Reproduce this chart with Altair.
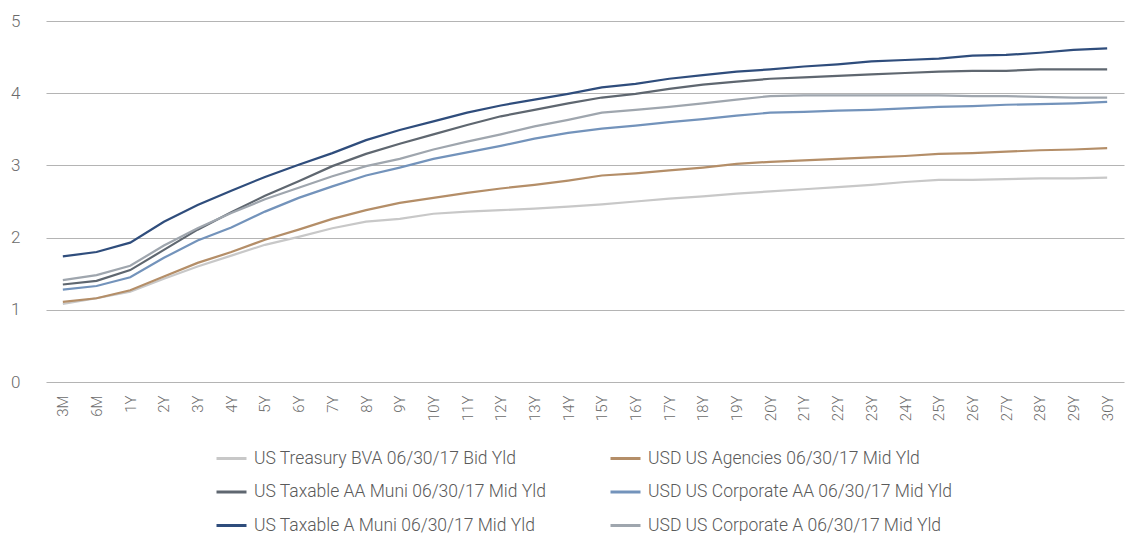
import altair as alt
import pandas as pd

tenors = ["3M", "6M", "1Y", "2Y", "3Y", "4Y", "5Y", "6Y", "7Y", "8Y", "9Y", "10Y",
          "11Y", "12Y", "13Y", "14Y", "15Y", "16Y", "17Y", "18Y", "19Y", "20Y",
          "21Y", "22Y", "23Y", "24Y", "25Y", "26Y", "27Y", "28Y", "29Y", "30Y"]

treasury = [1.08, 1.16, 1.25, 1.43, 1.60, 1.75, 1.90, 2.01, 2.13, 2.22, 2.26, 2.33,
            2.36, 2.38, 2.40, 2.43, 2.46, 2.50, 2.54, 2.57, 2.61, 2.64,
            2.67, 2.70, 2.73, 2.77, 2.80, 2.80, 2.81, 2.82, 2.82, 2.83]
agencies = [1.11, 1.16, 1.27, 1.46, 1.65, 1.80, 1.97, 2.11, 2.26, 2.38, 2.48, 2.55,
            2.62, 2.68, 2.73, 2.79, 2.86, 2.89, 2.93, 2.97, 3.02, 3.05,
            3.07, 3.09, 3.11, 3.13, 3.16, 3.17, 3.19, 3.21, 3.22, 3.24]
taxable_aa = [1.35, 1.40, 1.55, 1.83, 2.11, 2.35, 2.58, 2.78, 2.99, 3.16, 3.30, 3.43,
              3.56, 3.68, 3.77, 3.86, 3.94, 3.99, 4.06, 4.12, 4.16, 4.20,
              4.22, 4.24, 4.26, 4.28, 4.30, 4.31, 4.31, 4.33, 4.33, 4.33]
corp_aa = [1.28, 1.33, 1.45, 1.72, 1.96, 2.14, 2.36, 2.55, 2.71, 2.86, 2.97, 3.09,
           3.18, 3.27, 3.37, 3.45, 3.51, 3.55, 3.60, 3.64, 3.69, 3.73,
           3.74, 3.76, 3.77, 3.79, 3.81, 3.82, 3.84, 3.85, 3.86, 3.88]
taxable_a = [1.74, 1.80, 1.93, 2.22, 2.45, 2.65, 2.84, 3.01, 3.17, 3.35, 3.49, 3.61,
             3.73, 3.83, 3.91, 3.99, 4.08, 4.13, 4.20, 4.25, 4.30, 4.33,
             4.37, 4.40, 4.44, 4.46, 4.48, 4.52, 4.53, 4.56, 4.60, 4.62]
corp_a = [1.41, 1.48, 1.61, 1.89, 2.13, 2.34, 2.53, 2.69, 2.85, 2.99, 3.09, 3.22,
          3.33, 3.43, 3.54, 3.63, 3.73, 3.77, 3.81, 3.86, 3.91, 3.96,
          3.97, 3.97, 3.97, 3.97, 3.97, 3.96, 3.96, 3.95, 3.94, 3.94]

# legend fills column by column: left column first, then right column
series_names = ["US Treasury BVA 06/30/17 Bid Yld",
                "US Taxable AA Muni 06/30/17 Mid Yld",
                "US Taxable A Muni 06/30/17 Mid Yld",
                "USD US Agencies 06/30/17 Mid Yld",
                "USD US Corporate AA 06/30/17 Mid Yld",
                "USD US Corporate A 06/30/17 Mid Yld"]
series_values = [treasury, taxable_aa, taxable_a, agencies, corp_aa, corp_a]
colors = ["#c8c8c8", "#5f6770", "#2f4d7c", "#b48e68", "#7393bb", "#9fa6ae"]
draw_order = [0, 4, 5, 1, 2, 3]

rows = []
for i, (name, vals) in enumerate(zip(series_names, series_values)):
    for t, v in zip(tenors, vals):
        rows.append({"tenor": t, "yield": v, "series": name, "order": draw_order[i]})
df = pd.DataFrame(rows)

font = "Roboto"

chart = alt.Chart(df).mark_line(strokeWidth=2.2).encode(
    x=alt.X("tenor:N", sort=tenors, title=None,
            scale=alt.Scale(type="point", range=[17, 1095]),
            axis=alt.Axis(labelAngle=-90, labelFontSize=15, labelColor="#6b6b6b",
                          labelFont=font, labelFontWeight=300, ticks=False,
                          domain=False, grid=False,
                          labelPadding=13, labelBaseline="middle", labelAlign="right")),
    y=alt.Y("yield:Q", title=None,
            scale=alt.Scale(domain=[0, 5], nice=False),
            axis=alt.Axis(values=[0, 1, 2, 3, 4, 5], labelFontSize=17,
                          labelColor="#6b6b6b", labelFont=font, labelFontWeight=300,
                          ticks=False, domain=False, gridColor="#b4b4b4",
                          gridWidth=1.2, labelPadding=9)),
    color=alt.Color("series:N", sort=series_names,
                    scale=alt.Scale(domain=series_names, range=colors),
                    legend=alt.Legend(title=None, orient="none", legendX=186, legendY=421,
                                      columns=2, columnPadding=57, rowPadding=8.5,
                                      symbolType="stroke", symbolSize=900,
                                      symbolStrokeWidth=3, labelFontSize=17.5,
                                      labelFont=font, labelFontWeight=300,
                                      labelColor="#5a5a5a",
                                      labelLimit=400, labelOffset=6)),
    order=alt.Order("order:Q"),
).properties(
    width=1104, height=361,
    padding={"left": 29, "top": 21, "right": 0, "bottom": 153},
    autosize=alt.AutoSizeParams(type="none"),
).configure_view(stroke=None)

chart.save("out.html", embed_options={"renderer": "svg", "actions": False})
